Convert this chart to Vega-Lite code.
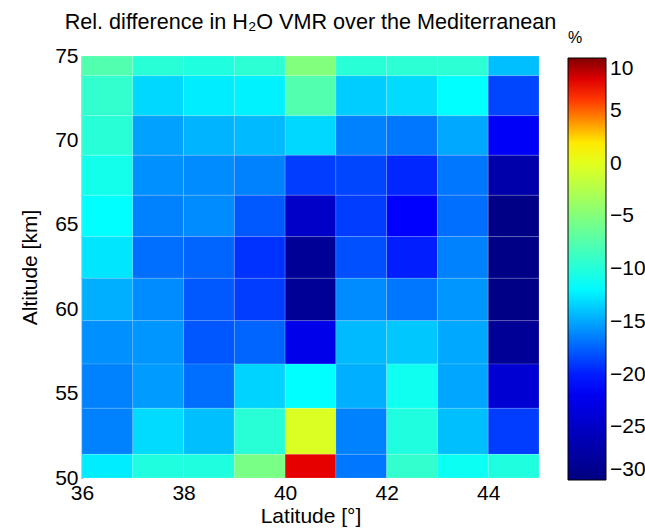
{
  "$schema": "https://vega.github.io/schema/vega-lite/v6.json",
  "width": 457,
  "height": 422,
  "autosize": "none",
  "padding": {"left": 82, "top": 56, "right": 106, "bottom": 51},
  "background": "white",
  "config": {"view": {"stroke": null}, "font": "Liberation Sans"},
  "title": {"text": "Rel. difference in H₂O VMR over the Mediterranean", "fontSize": 21.6, "fontWeight": "normal", "font": "Liberation Sans", "color": "black", "anchor": "middle", "frame": "group", "baseline": "alphabetic", "offset": -21},
  "data": {"values": [
    {"lat":36,"lat2":37,"alt":73.83,"alt2":75,"dv":-7.6},
    {"lat":37,"lat2":38,"alt":73.83,"alt2":75,"dv":-9.7},
    {"lat":38,"lat2":39,"alt":73.83,"alt2":75,"dv":-10.2},
    {"lat":39,"lat2":40,"alt":73.83,"alt2":75,"dv":-9.5},
    {"lat":40,"lat2":41,"alt":73.83,"alt2":75,"dv":-5.0},
    {"lat":41,"lat2":42,"alt":73.83,"alt2":75,"dv":-9.7},
    {"lat":42,"lat2":43,"alt":73.83,"alt2":75,"dv":-9.5},
    {"lat":43,"lat2":44,"alt":73.83,"alt2":75,"dv":-9.5},
    {"lat":44,"lat2":45,"alt":73.83,"alt2":75,"dv":-14.1},
    {"lat":36,"lat2":37,"alt":71.46,"alt2":73.83,"dv":-9.2},
    {"lat":37,"lat2":38,"alt":71.46,"alt2":73.83,"dv":-13.2},
    {"lat":38,"lat2":39,"alt":71.46,"alt2":73.83,"dv":-12.5},
    {"lat":39,"lat2":40,"alt":71.46,"alt2":73.83,"dv":-12.3},
    {"lat":40,"lat2":41,"alt":71.46,"alt2":73.83,"dv":-7.6},
    {"lat":41,"lat2":42,"alt":71.46,"alt2":73.83,"dv":-13.6},
    {"lat":42,"lat2":43,"alt":71.46,"alt2":73.83,"dv":-13.1},
    {"lat":43,"lat2":44,"alt":71.46,"alt2":73.83,"dv":-11.8},
    {"lat":44,"lat2":45,"alt":71.46,"alt2":73.83,"dv":-18.5},
    {"lat":36,"lat2":37,"alt":69.12,"alt2":71.46,"dv":-9.7},
    {"lat":37,"lat2":38,"alt":69.12,"alt2":71.46,"dv":-15.2},
    {"lat":38,"lat2":39,"alt":69.12,"alt2":71.46,"dv":-14.5},
    {"lat":39,"lat2":40,"alt":69.12,"alt2":71.46,"dv":-14.3},
    {"lat":40,"lat2":41,"alt":69.12,"alt2":71.46,"dv":-13.2},
    {"lat":41,"lat2":42,"alt":69.12,"alt2":71.46,"dv":-16.3},
    {"lat":42,"lat2":43,"alt":69.12,"alt2":71.46,"dv":-16.7},
    {"lat":43,"lat2":44,"alt":69.12,"alt2":71.46,"dv":-14.9},
    {"lat":44,"lat2":45,"alt":69.12,"alt2":71.46,"dv":-21.5},
    {"lat":36,"lat2":37,"alt":66.75,"alt2":69.12,"dv":-10.8},
    {"lat":37,"lat2":38,"alt":66.75,"alt2":69.12,"dv":-15.8},
    {"lat":38,"lat2":39,"alt":66.75,"alt2":69.12,"dv":-16.0},
    {"lat":39,"lat2":40,"alt":66.75,"alt2":69.12,"dv":-16.3},
    {"lat":40,"lat2":41,"alt":66.75,"alt2":69.12,"dv":-18.8},
    {"lat":41,"lat2":42,"alt":66.75,"alt2":69.12,"dv":-18.5},
    {"lat":42,"lat2":43,"alt":66.75,"alt2":69.12,"dv":-19.6},
    {"lat":43,"lat2":44,"alt":66.75,"alt2":69.12,"dv":-16.7},
    {"lat":44,"lat2":45,"alt":66.75,"alt2":69.12,"dv":-27.0},
    {"lat":36,"lat2":37,"alt":64.30,"alt2":66.75,"dv":-11.8},
    {"lat":37,"lat2":38,"alt":64.30,"alt2":66.75,"dv":-16.3},
    {"lat":38,"lat2":39,"alt":64.30,"alt2":66.75,"dv":-16.0},
    {"lat":39,"lat2":40,"alt":64.30,"alt2":66.75,"dv":-17.8},
    {"lat":40,"lat2":41,"alt":64.30,"alt2":66.75,"dv":-24.9},
    {"lat":41,"lat2":42,"alt":64.30,"alt2":66.75,"dv":-18.8},
    {"lat":42,"lat2":43,"alt":64.30,"alt2":66.75,"dv":-21.0},
    {"lat":43,"lat2":44,"alt":64.30,"alt2":66.75,"dv":-17.0},
    {"lat":44,"lat2":45,"alt":64.30,"alt2":66.75,"dv":-29.5},
    {"lat":36,"lat2":37,"alt":61.83,"alt2":64.30,"dv":-12.7},
    {"lat":37,"lat2":38,"alt":61.83,"alt2":64.30,"dv":-17.0},
    {"lat":38,"lat2":39,"alt":61.83,"alt2":64.30,"dv":-17.4},
    {"lat":39,"lat2":40,"alt":61.83,"alt2":64.30,"dv":-19.2},
    {"lat":40,"lat2":41,"alt":61.83,"alt2":64.30,"dv":-28.4},
    {"lat":41,"lat2":42,"alt":61.83,"alt2":64.30,"dv":-18.1},
    {"lat":42,"lat2":43,"alt":61.83,"alt2":64.30,"dv":-19.9},
    {"lat":43,"lat2":44,"alt":61.83,"alt2":64.30,"dv":-16.3},
    {"lat":44,"lat2":45,"alt":61.83,"alt2":64.30,"dv":-29.5},
    {"lat":36,"lat2":37,"alt":59.32,"alt2":61.83,"dv":-14.7},
    {"lat":37,"lat2":38,"alt":59.32,"alt2":61.83,"dv":-16.0},
    {"lat":38,"lat2":39,"alt":59.32,"alt2":61.83,"dv":-17.8},
    {"lat":39,"lat2":40,"alt":59.32,"alt2":61.83,"dv":-18.8},
    {"lat":40,"lat2":41,"alt":59.32,"alt2":61.83,"dv":-28.4},
    {"lat":41,"lat2":42,"alt":59.32,"alt2":61.83,"dv":-16.0},
    {"lat":42,"lat2":43,"alt":59.32,"alt2":61.83,"dv":-16.7},
    {"lat":43,"lat2":44,"alt":59.32,"alt2":61.83,"dv":-15.6},
    {"lat":44,"lat2":45,"alt":59.32,"alt2":61.83,"dv":-29.5},
    {"lat":36,"lat2":37,"alt":56.75,"alt2":59.32,"dv":-15.8},
    {"lat":37,"lat2":38,"alt":56.75,"alt2":59.32,"dv":-15.6},
    {"lat":38,"lat2":39,"alt":56.75,"alt2":59.32,"dv":-17.9},
    {"lat":39,"lat2":40,"alt":56.75,"alt2":59.32,"dv":-17.4},
    {"lat":40,"lat2":41,"alt":56.75,"alt2":59.32,"dv":-22.4},
    {"lat":41,"lat2":42,"alt":56.75,"alt2":59.32,"dv":-14.3},
    {"lat":42,"lat2":43,"alt":56.75,"alt2":59.32,"dv":-13.8},
    {"lat":43,"lat2":44,"alt":56.75,"alt2":59.32,"dv":-14.9},
    {"lat":44,"lat2":45,"alt":56.75,"alt2":59.32,"dv":-28.4},
    {"lat":36,"lat2":37,"alt":54.13,"alt2":56.75,"dv":-16.3},
    {"lat":37,"lat2":38,"alt":54.13,"alt2":56.75,"dv":-15.4},
    {"lat":38,"lat2":39,"alt":54.13,"alt2":56.75,"dv":-17.0},
    {"lat":39,"lat2":40,"alt":54.13,"alt2":56.75,"dv":-13.4},
    {"lat":40,"lat2":41,"alt":54.13,"alt2":56.75,"dv":-11.8},
    {"lat":41,"lat2":42,"alt":54.13,"alt2":56.75,"dv":-14.7},
    {"lat":42,"lat2":43,"alt":54.13,"alt2":56.75,"dv":-11.0},
    {"lat":43,"lat2":44,"alt":54.13,"alt2":56.75,"dv":-15.0},
    {"lat":44,"lat2":45,"alt":54.13,"alt2":56.75,"dv":-24.2},
    {"lat":36,"lat2":37,"alt":51.40,"alt2":54.13,"dv":-16.3},
    {"lat":37,"lat2":38,"alt":51.40,"alt2":54.13,"dv":-13.1},
    {"lat":38,"lat2":39,"alt":51.40,"alt2":54.13,"dv":-14.1},
    {"lat":39,"lat2":40,"alt":51.40,"alt2":54.13,"dv":-9.7},
    {"lat":40,"lat2":41,"alt":51.40,"alt2":54.13,"dv":-0.3},
    {"lat":41,"lat2":42,"alt":51.40,"alt2":54.13,"dv":-16.3},
    {"lat":42,"lat2":43,"alt":51.40,"alt2":54.13,"dv":-10.2},
    {"lat":43,"lat2":44,"alt":51.40,"alt2":54.13,"dv":-14.1},
    {"lat":44,"lat2":45,"alt":51.40,"alt2":54.13,"dv":-18.8},
    {"lat":36,"lat2":37,"alt":50,"alt2":51.40,"dv":-12.5},
    {"lat":37,"lat2":38,"alt":50,"alt2":51.40,"dv":-10.2},
    {"lat":38,"lat2":39,"alt":50,"alt2":51.40,"dv":-10.2},
    {"lat":39,"lat2":40,"alt":50,"alt2":51.40,"dv":-5.5},
    {"lat":40,"lat2":41,"alt":50,"alt2":51.40,"dv":7.8},
    {"lat":41,"lat2":42,"alt":50,"alt2":51.40,"dv":-16.7},
    {"lat":42,"lat2":43,"alt":50,"alt2":51.40,"dv":-9.2},
    {"lat":43,"lat2":44,"alt":50,"alt2":51.40,"dv":-11.2},
    {"lat":44,"lat2":45,"alt":50,"alt2":51.40,"dv":-10.2}
  ]},
  "mark": {"type": "rect", "stroke": "white", "strokeOpacity": 0.25, "strokeWidth": 0.6},
  "encoding": {
    "x": {"field": "lat", "type": "quantitative", "scale": {"domain": [36, 45], "nice": false, "zero": false},
      "axis": {"title": "Latitude [°]", "values": [36, 38, 40, 42, 44], "domain": false, "ticks": false, "grid": false, "labelFontSize": 21, "titleFontSize": 21, "labelColor": "black", "titleColor": "black", "titleFontWeight": "normal", "labelPadding": 4, "titlePadding": 2, "labelFlush": false, "labelOverlap": false}},
    "x2": {"field": "lat2"},
    "y": {"field": "alt", "type": "quantitative", "scale": {"domain": [50, 75], "nice": false, "zero": false},
      "axis": {"title": "Altitude [km]", "values": [50, 55, 60, 65, 70, 75], "domain": true, "domainColor": "#333333", "domainWidth": 1.5, "ticks": false, "grid": false, "labelFontSize": 21, "titleFontSize": 21, "labelColor": "black", "titleColor": "black", "titleFontWeight": "normal", "labelPadding": 4, "titlePadding": 14, "labelFlush": false, "labelOverlap": false}},
    "y2": {"field": "alt2"},
    "color": {"field": "dv", "type": "quantitative",
      "scale": {"type": "linear", "domain": [-30, -21, -11.8, 1.5, 7.3, 10], "range": ["#000080", "#0000ff", "#00ffff", "#ffff00", "#ff0000", "#800000"], "interpolate": "rgb"},
      "legend": {"title": "%", "orient": "none", "legendX": 486, "legendY": -26, "direction": "vertical", "gradientLength": 422, "gradientThickness": 38, "gradientStrokeColor": "black", "gradientStrokeWidth": 1, "values": [-30, -25, -20, -15, -10, -5, 0, 5, 10], "labelFontSize": 21, "labelColor": "black", "labelBaseline": "middle", "labelOffset": 4, "labelOverlap": false, "titleFontSize": 16, "titleFontWeight": "normal", "titleColor": "black", "titleAnchor": "start", "titleAlign": "left", "titlePadding": 12, "padding": 0}}
  }
}
